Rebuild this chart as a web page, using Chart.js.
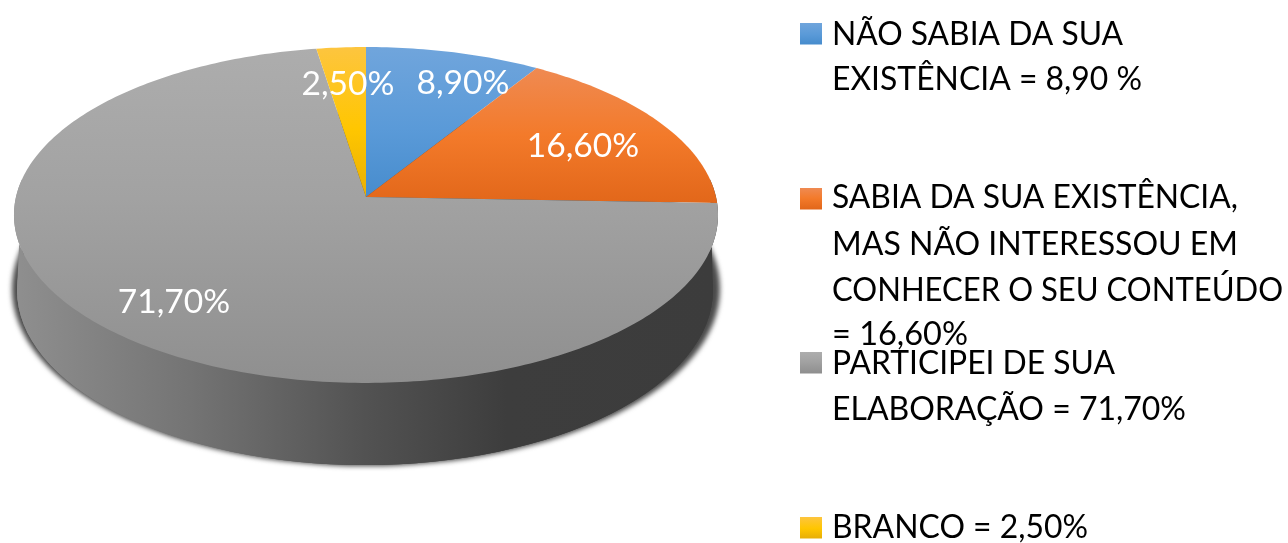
<!DOCTYPE html>
<html><head><meta charset="utf-8">
<style>html,body{margin:0;padding:0;background:#fff;overflow:hidden}#w{position:absolute;left:0;top:0;width:1288px;height:543px}</style>
<script src="https://cdn.jsdelivr.net/npm/chart.js@4"></script>
</head><body><div id="w"><canvas id="c" width="1288" height="543"></canvas></div>
<script>
const categories = ['NÃO SABIA DA SUA EXISTÊNCIA = 8,90 %','SABIA DA SUA EXISTÊNCIA, MAS NÃO INTERESSOU EM CONHECER O SEU CONTEÚDO = 16,60%','PARTICIPEI DE SUA ELABORAÇÃO = 71,70%','BRANCO = 2,50%'];
const values = [8.9,16.6,71.7,2.5];
const legendLines = [['NÃO SABIA DA SUA','EXISTÊNCIA = 8,90 %'],['SABIA DA SUA EXISTÊNCIA,','MAS NÃO INTERESSOU EM','CONHECER O SEU CONTEÚDO','= 16,60%'],['PARTICIPEI DE SUA','ELABORAÇÃO = 71,70%'],['BRANCO = 2,50%']];
const legendBaselines = [[45,90],[208,255,301,345],[374,420],[538]];
const legendRights = [[1123,1142],[1238,1238,1283,968],[1115,1186],[1088]];
const swatchTops = [23,188,352,517];
const labelCenters = [[463,84],[583,147],[174,303],[348,85]];
const sliceStops = [
  [[0,'#70a5dc'],[0.55,'#5a9ad8'],[1,'#478ccd']],
  [[0,'#ef8a52'],[0.5,'#f37a2a'],[1,'#e2671a']],
  [[0,'#adadad'],[0.45,'#a2a2a2'],[1,'#8f8f8f']],
  [[0,'#fdc53f'],[0.55,'#ffc600'],[1,'#e8af06']]
];
const sliceBands = [[47,197],[68,203],[47,383],[47,197]];
const FONT = '32px Lato, Carlito, sans-serif';
const LEGEND_X = 832, LABEL_XSCALE = 1.05;
const A = 350/197, B = 166/197, K = 0.107;

function proj(el,alpha){
  const u=Math.cos(alpha),v=Math.sin(alpha),w=1-K*v;
  return [el.x+el.outerRadius*A*u/w, el.y+el.outerRadius*B*v/w];
}
function grad(ctx,stops,x0,y0,x1,y1){
  const g=ctx.createLinearGradient(x0,y0,x1,y1);
  stops.forEach(s=>g.addColorStop(s[0],s[1]));return g;
}
function text(ctx,s,x,y,sx){
  ctx.save();ctx.translate(x,y);ctx.scale(sx,1);ctx.fillText(s,0,0);ctx.restore();
}
const tilted = {
  id:'tilted',
  beforeDatasetsDraw(chart){
    const ctx=chart.ctx, arcs=chart.getDatasetMeta(0).data, e0=arcs[0];
    ctx.save();
    const lx=e0.x-1, ly=e0.y+93, lrx=348, lry=175;
    // soft shadow under the disc
    ctx.save();
    ctx.filter='blur(2.5px)';
    ctx.fillStyle='#4a4a4a';
    ctx.beginPath();ctx.ellipse(lx+1,ly-1,lrx+6,lry+2,0,0,Math.PI*2);ctx.fill();
    ctx.restore();
    // side wall
    ctx.fillStyle=grad(ctx,[[0,'#8f8f8f'],[0.25,'#747474'],[0.5,'#525252'],[0.7,'#3d3d3d'],[1,'#3c3c3c']],14,0,718,0);
    ctx.beginPath();
    ctx.ellipse(lx,ly,lrx,lry,0,0,Math.PI*2);
    ctx.fill();
    ctx.beginPath();
    for(let i=0;i<=180;i++){const p=proj(e0,-0.11+(Math.PI+0.22)*i/180);i?ctx.lineTo(p[0],p[1]):ctx.moveTo(p[0],p[1]);}
    ctx.ellipse(lx,ly,lrx,lry,0,Math.PI,0,true);
    ctx.closePath();ctx.fill();
    // top surface of each slice, angles from the chart's own arc elements
    arcs.forEach((el,i)=>{
      const b=sliceBands[i];
      ctx.fillStyle=grad(ctx,sliceStops[i],0,b[0],0,b[1]);
      ctx.beginPath();ctx.moveTo(el.x,el.y);
      const n=Math.max(4,Math.ceil((el.endAngle-el.startAngle)*60));
      for(let j=0;j<=n;j++){const p=proj(el,el.startAngle+(el.endAngle-el.startAngle)*j/n);ctx.lineTo(p[0],p[1]);}
      ctx.closePath();ctx.fill();
    });
    ctx.restore();
    return false;
  },
  afterDraw(chart){
    const ctx=chart.ctx;
    ctx.save();
    ctx.font=FONT;ctx.textBaseline='alphabetic';
    legendLines.forEach((lines,i)=>{
      const t=swatchTops[i];
      ctx.fillStyle=grad(ctx,sliceStops[i],0,t,0,t+21);
      ctx.fillRect(800,t,22,21.5);
    });
    ctx.fillStyle='#000';ctx.textAlign='left';
    legendLines.forEach((lines,i)=>lines.forEach((s,j)=>{
      const sx=(legendRights[i][j]-LEGEND_X)/ctx.measureText(s).width;
      text(ctx,s,LEGEND_X,legendBaselines[i][j],sx);
    }));
    ctx.fillStyle='#fff';ctx.textAlign='center';ctx.textBaseline='middle';
    values.forEach((v,i)=>text(ctx,v.toFixed(2).replace('.',',')+'%',labelCenters[i][0],labelCenters[i][1],LABEL_XSCALE));
    ctx.restore();
  }
};
new Chart(document.getElementById('c'),{
  type:'pie',
  data:{labels:categories,datasets:[{data:values,backgroundColor:['#5b9bd5','#ed7d31','#a5a5a5','#ffc000'],borderWidth:0}]},
  options:{responsive:false,animation:false,events:[],
    layout:{padding:{left:0,top:0,right:556,bottom:149}},
    plugins:{legend:{display:false},tooltip:{enabled:false}}},
  plugins:[tilted]
});
</script></body></html>
